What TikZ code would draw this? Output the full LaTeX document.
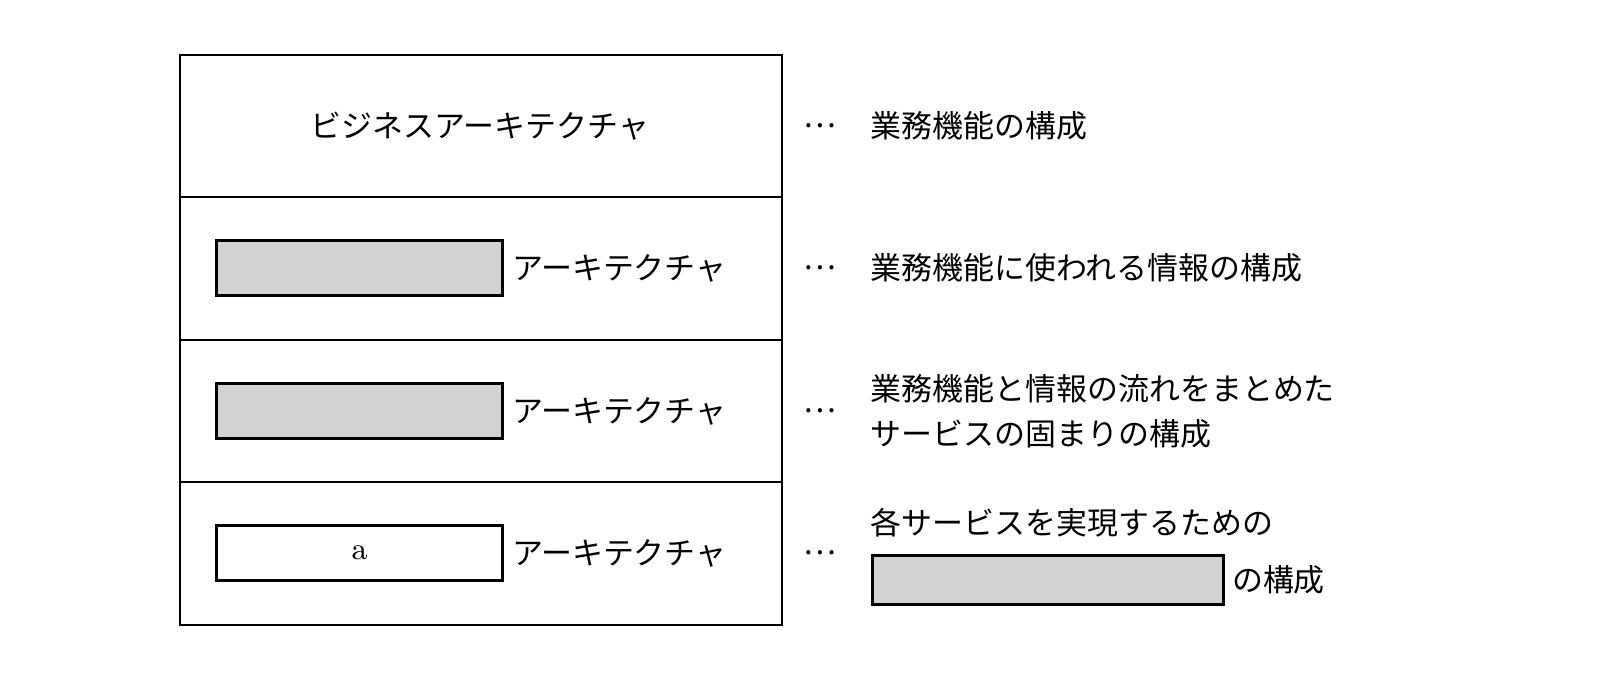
\documentclass[tikz,border=0pt]{standalone}
\usepackage{fontspec}
\newfontfamily\cjk{Noto Sans CJK JP}
\usetikzlibrary{positioning}
\tikzset{
  label/.style={font=\cjk\fontsize{8.8}{10}\selectfont, inner sep=0pt},
  blank/.style={draw=black, line width=0.9pt, fill=gray!35, minimum width=2.86cm, minimum height=0.55cm, inner sep=0pt},
}
\begin{document}
\begin{tikzpicture}[x=0.01cm,y=-0.01cm]
  \useasboundingbox (0,0) rectangle (1622,688);
  % layered box
  \draw[line width=0.8pt] (180,55) rectangle (782,625);
  \foreach \y in {197,340,482} \draw[line width=0.8pt] (180,\y) -- (782,\y);
  \node[label] (biz) at (480,126) {ビジネスアーキテクチャ};
  \node[blank, anchor=west] (b2) at (215,268) {};
  \node[blank, anchor=west] (b3) at (215,411) {};
  \node[blank, anchor=west, fill=white, font=\fontsize{8.8}{10}\selectfont] (b4) at (215,553) {a};
  \foreach \n in {2,3,4} \node[label, right=0.07cm of b\n] (arch\n) {アーキテクチャ};
  % descriptions
  \foreach \y in {126,268,411,553} \node[label] at (820,\y) {…};
  \node[label, anchor=west] (d1) at (870,126) {業務機能の構成};
  \node[label, anchor=west] (d2) at (870,268) {業務機能に使われる情報の構成};
  \node[label, anchor=west, align=left] (d3) at (870,411) {業務機能と情報の流れをまとめた\\[0.1cm]サービスの固まりの構成};
  \node[label, anchor=west] (d4) at (870,523) {各サービスを実現するための};
  \node[blank, anchor=west, minimum width=3.51cm, minimum height=0.49cm] (b5) at (871,580) {};
  \node[label, right=0.06cm of b5] (d5) {の構成};
\end{tikzpicture}
\end{document}
